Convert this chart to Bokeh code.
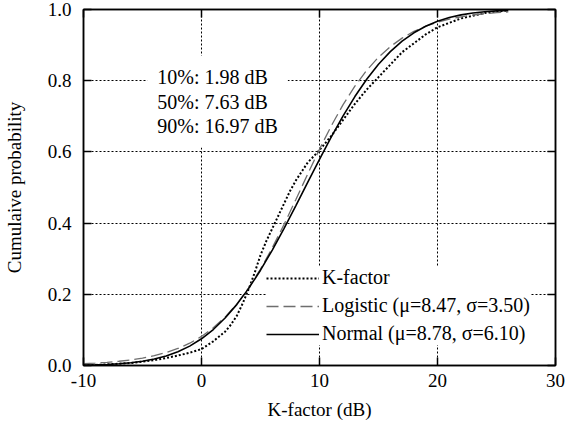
from bokeh.plotting import figure
from bokeh.models import (LinearAxis, FixedTicker, NumeralTickFormatter, Legend,
                          LegendItem, Label, Range1d, CustomJSTickFormatter)
from bokeh.embed import file_html
from bokeh.resources import INLINE

# ---- data ----
x_ticks = [-10, 0, 10, 20, 30]
y_ticks = [0.0, 0.2, 0.4, 0.6, 0.8, 1.0]

# empirical K-factor CDF
emp_x = [-10, -8, -6, -4, -3, -2, -1, 0, 1, 2, 2.5, 3, 3.5, 4, 4.5, 5, 5.5, 6, 6.5,
         7, 7.5, 8, 9, 10, 11, 12, 13, 14, 15, 16, 17, 18, 19, 20, 22, 24, 26]
emp_y = [0.0, 0.003, 0.007, 0.015, 0.021, 0.028, 0.036, 0.046, 0.068, 0.095, 0.115,
         0.14, 0.175, 0.215, 0.26, 0.31, 0.35, 0.385, 0.42, 0.455, 0.49, 0.52, 0.57,
         0.605, 0.645, 0.69, 0.735, 0.775, 0.81, 0.845, 0.88, 0.905, 0.93, 0.95,
         0.975, 0.99, 0.998]

# fitted curves
fit_x = [-10, -9, -8, -7, -6, -5, -4, -3, -2, -1, 0, 1, 2, 3, 4, 5, 6, 7, 8, 9,
         10, 11, 12, 13, 14, 15, 16, 17, 18, 19, 20, 21, 22, 23, 24, 25, 26]
logistic_y = [0.0051, 0.0068, 0.0090, 0.0119, 0.0158, 0.0209, 0.0276, 0.0364, 0.0478,
              0.0626, 0.0817, 0.1058, 0.1360, 0.1732, 0.2180, 0.2707, 0.3306, 0.3965,
              0.4665, 0.5377, 0.6076, 0.6733, 0.7328, 0.7849, 0.8292, 0.8660, 0.8958,
              0.9196, 0.9384, 0.9530, 0.9642, 0.9729, 0.9795, 0.9845, 0.9883, 0.9912,
              0.9934]
normal_y = [0.0010, 0.0018, 0.0030, 0.0048, 0.0077, 0.0119, 0.0181, 0.0267, 0.0386,
            0.0545, 0.0750, 0.1011, 0.1333, 0.1717, 0.2166, 0.2677, 0.3243, 0.3852,
            0.4491, 0.5144, 0.5793, 0.6421, 0.7012, 0.7555, 0.8040, 0.8461, 0.8817,
            0.9111, 0.9346, 0.9531, 0.9671, 0.9774, 0.9849, 0.9901, 0.9937, 0.9961,
            0.9976]

legend_labels = ["K-factor", "Logistic (\u03bc=8.47, \u03c3=3.50)",
                 "Normal (\u03bc=8.78, \u03c3=6.10)"]
note_text = "10%: 1.98 dB\n50%: 7.63 dB\n90%: 16.97 dB"

FONT = "Liberation Serif"
FS = "19px"

p = figure(width=574, height=426, x_range=Range1d(-10, 30), y_range=Range1d(0, 1),
           output_backend="svg", toolbar_location=None,
           min_border_left=81, min_border_right=19, min_border_top=9,
           min_border_bottom=61)
p.background_fill_color = "white"
p.border_fill_color = "white"
p.outline_line_color = "black"
p.outline_line_width = 1.5

# grid
p.xgrid.ticker = FixedTicker(ticks=x_ticks)
p.ygrid.ticker = FixedTicker(ticks=y_ticks)
for g in (p.xgrid, p.ygrid):
    g.grid_line_color = "black"
    g.grid_line_dash = "2 2"
    g.grid_line_width = 1

# axes
def style_axis(ax):
    ax.axis_line_color = "black"
    ax.axis_line_width = 1.5
    ax.major_tick_in = 8
    ax.major_tick_out = 0
    ax.major_tick_line_color = "black"
    ax.major_tick_line_width = 1.5
    ax.minor_tick_line_color = None
    ax.major_label_text_font = FONT
    ax.major_label_text_font_size = FS
    ax.major_label_text_color = "black"
    ax.axis_label_text_font = FONT
    ax.axis_label_text_font_size = FS
    ax.axis_label_text_font_style = "normal"
    ax.axis_label_text_color = "black"

xa = p.xaxis[0]
ya = p.yaxis[0]
style_axis(xa)
style_axis(ya)
xa.ticker = FixedTicker(ticks=x_ticks)
ya.ticker = FixedTicker(ticks=y_ticks)
xa.formatter = NumeralTickFormatter(format="0")
ya.formatter = NumeralTickFormatter(format="0.0")
xa.axis_label = "K-factor (dB)"
ya.axis_label = "Cumulaive probability"
xa.major_label_standoff = 8
xa.axis_label_standoff = 9
ya.major_label_standoff = 12
ya.axis_label_standoff = 20

blank = CustomJSTickFormatter(code="return ''")
top = LinearAxis(ticker=FixedTicker(ticks=x_ticks), formatter=blank, major_label_standoff=0)
right = LinearAxis(ticker=FixedTicker(ticks=y_ticks), formatter=blank, major_label_standoff=0)
style_axis(top)
style_axis(right)
p.add_layout(top, "above")
p.add_layout(right, "right")

# curves
r_emp = p.line(emp_x, emp_y, line_color="black", line_width=2, line_dash="2 2")
r_log = p.line(fit_x, logistic_y, line_color="#6e6e6e", line_width=1.3, line_dash="12 5")
r_norm = p.line(fit_x, normal_y, line_color="black", line_width=1.6)

legend = Legend(items=[LegendItem(label=legend_labels[0], renderers=[r_emp]),
                       LegendItem(label=legend_labels[1], renderers=[r_log]),
                       LegendItem(label=legend_labels[2], renderers=[r_norm])],
                location=(183, 20), orientation="vertical")
legend.background_fill_color = "white"
legend.background_fill_alpha = 1.0
legend.border_line_color = None
legend.padding = 0
legend.margin = 0
legend.spacing = 5
legend.glyph_width = 53
legend.glyph_height = 20
legend.label_height = 20
legend.label_standoff = 3
legend.label_text_font = FONT
legend.label_text_font_size = "20px"
legend.label_text_color = "black"
p.add_layout(legend)

note = Label(x=-4.6, y=0.87, text=note_text, text_font=FONT, text_font_size="20px",
             text_align="left", text_baseline="top", text_line_height=1.13,
             text_color="black", background_fill_color="white", padding=10)
p.add_layout(note)

open("out.html", "w").write(file_html(p, INLINE))
